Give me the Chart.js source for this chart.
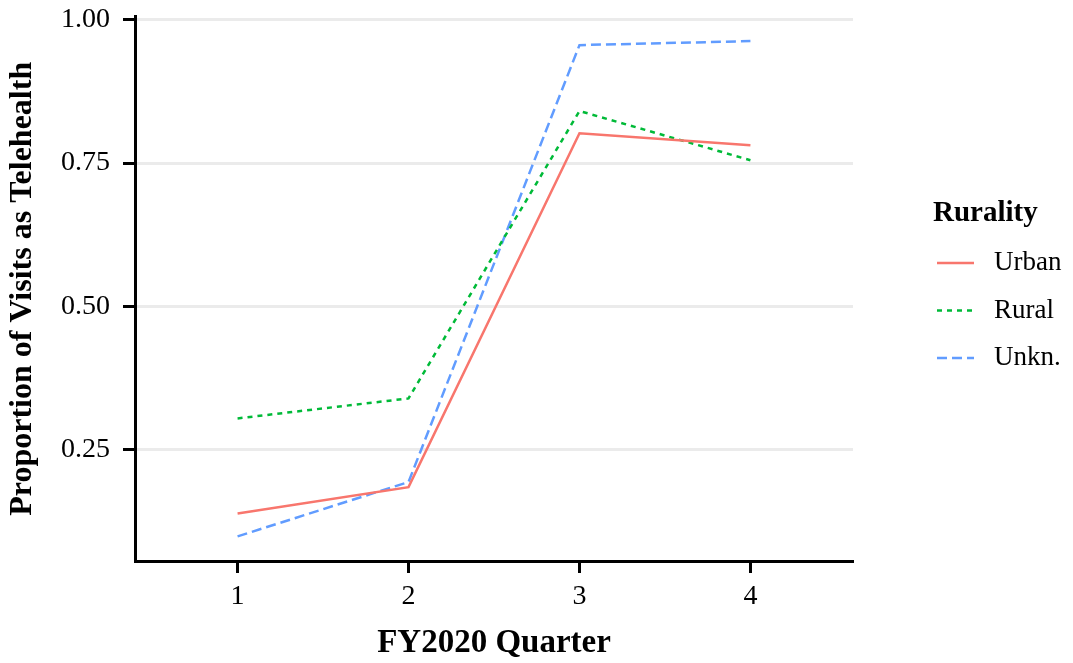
<!DOCTYPE html>
<html>
<head>
<meta charset="utf-8">
<script src="https://cdn.jsdelivr.net/npm/chart.js@4"></script>
<style>
html,body{margin:0;padding:0;background:#fff;}
#wrap{width:1073px;height:663px;}
</style>
</head>
<body>
<div id="wrap"><canvas id="c" width="1073" height="663"></canvas></div>
<script>
const quarters = [1, 2, 3, 4];
const urban = [0.138, 0.184, 0.802, 0.781];
const rural = [0.304, 0.339, 0.841, 0.755];
const unknown = [0.098, 0.193, 0.956, 0.963];
const seriesLabels = ['Urban', 'Rural', 'Unkn.'];
const yTicks = [0.25, 0.50, 0.75, 1.00];
const xTitle = 'FY2020 Quarter';
const yTitle = 'Proportion of Visits as Telehealth';
const legendTitle = 'Rurality';

const colors = ['#F8766D', '#00BA38', '#619CFF'];
const dashes = [[], [5, 5], [10, 5]];
const FONT = '"Liberation Serif", "Times New Roman", serif';

const toPts = arr => quarters.map((q, i) => ({x: q, y: arr[i]}));
const datasets = [urban, rural, unknown].map((arr, i) => ({
  label: seriesLabels[i],
  data: toPts(arr),
  borderColor: colors[i],
  backgroundColor: colors[i],
  borderWidth: 2.5,
  borderDash: dashes[i],
  borderCapStyle: 'butt',
  pointRadius: 0,
  tension: 0,
  fill: false
}));

const legendPlugin = {
  id: 'ggLegend',
  afterDraw(chart) {
    const ctx = chart.ctx;
    ctx.save();
    ctx.fillStyle = '#000';
    ctx.textBaseline = 'middle';
    ctx.textAlign = 'left';
    ctx.font = 'bold 29px ' + FONT;
    ctx.fillText(legendTitle, 933, 214);
    ctx.font = '27px ' + FONT;
    chart.data.datasets.forEach((ds, i) => {
      const y = 263 + i * 47.5;
      ctx.beginPath();
      ctx.strokeStyle = ds.borderColor;
      ctx.lineWidth = 2.5;
      ctx.setLineDash(ds.borderDash);
      ctx.moveTo(937, y);
      ctx.lineTo(974, y);
      ctx.stroke();
      ctx.setLineDash([]);
      ctx.fillText(ds.label, 994, y);
    });
    ctx.restore();
  }
};

function noPad(s) {
  s.paddingTop = 0; s.paddingBottom = 0; s.paddingLeft = 0; s.paddingRight = 0;
}

new Chart(document.getElementById('c'), {
  type: 'line',
  data: { datasets },
  options: {
    responsive: false,
    animation: false,
    layout: { padding: { top: 16.5, right: 220, left: 0, bottom: 0 } },
    plugins: { legend: { display: false }, tooltip: { enabled: false } },
    scales: {
      x: {
        type: 'linear',
        min: 0.4,
        max: 4.6,
        afterBuildTicks: s => { s.ticks = quarters.map(v => ({value: v})); },
        ticks: {
          color: '#000',
          font: { family: FONT, size: 28, lineHeight: 1 },
          padding: 10,
          maxRotation: 0,
          callback: v => String(v)
        },
        grid: {
          drawOnChartArea: false,
          drawTicks: true,
          tickLength: 12,
          tickColor: '#000',
          tickWidth: 3
        },
        border: { display: true, color: '#000', width: 3 },
        title: {
          display: true,
          text: xTitle,
          color: '#000',
          font: { family: FONT, size: 33, weight: 'bold' },
          padding: { top: 10, bottom: 0 }
        },
        afterFit: s => { s.height = 102; noPad(s); }
      },
      y: {
        type: 'linear',
        min: 0.055,
        max: 1.006,
        afterBuildTicks: s => { s.ticks = yTicks.map(v => ({value: v})); },
        ticks: {
          color: '#000',
          font: { family: FONT, size: 28, lineHeight: 1 },
          padding: 13,
          callback: v => v.toFixed(2)
        },
        grid: {
          color: '#ebebeb',
          lineWidth: 3,
          drawTicks: true,
          tickLength: 12,
          tickColor: '#000',
          tickWidth: 3
        },
        border: { display: true, color: '#000', width: 3 },
        title: {
          display: true,
          text: yTitle,
          color: '#000',
          font: { family: FONT, size: 32, weight: 'bold' },
          padding: { top: 4, bottom: 8 }
        },
        afterFit: s => { s.width = 135; noPad(s); }
      }
    }
  },
  plugins: [legendPlugin]
});
</script>
</body>
</html>
